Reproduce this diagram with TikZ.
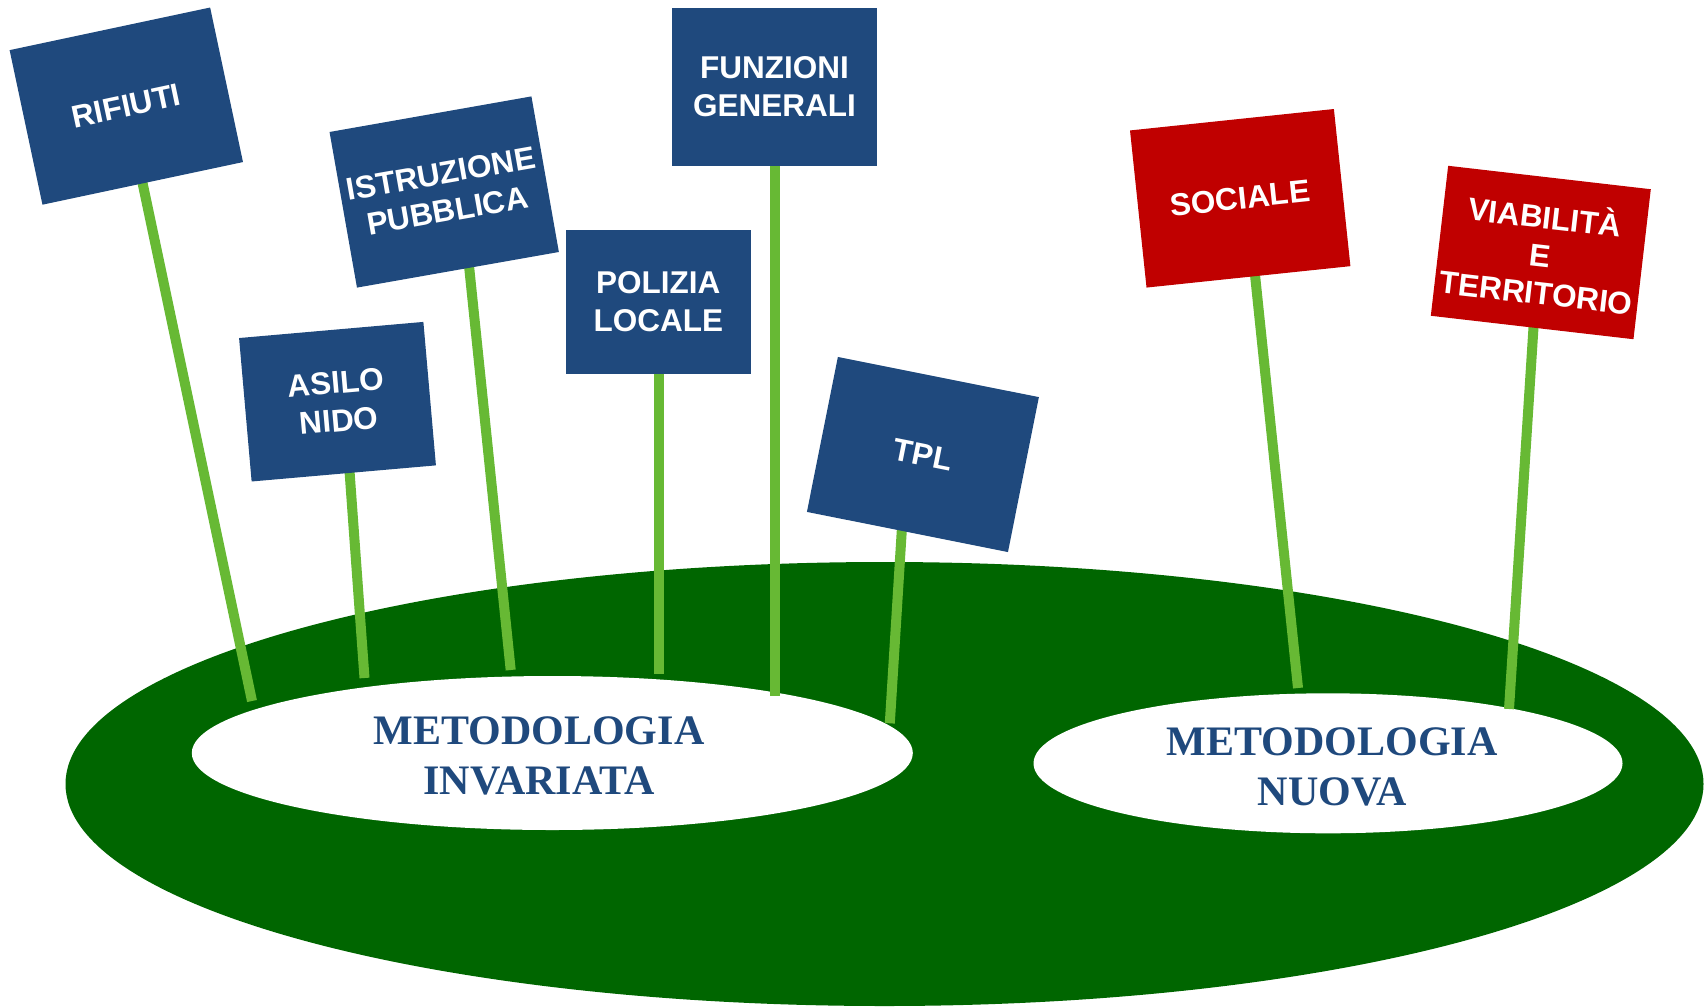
\documentclass[tikz,border=0pt]{standalone}
\usepackage{fontspec}
\setmainfont{Liberation Sans}
\newfontfamily\serifbold{Liberation Serif}
\usetikzlibrary{shapes.geometric}
\definecolor{signblue}{RGB}{31,73,125}
\definecolor{signred}{RGB}{192,0,0}
\definecolor{grass}{RGB}{0,102,0}
\definecolor{stick}{RGB}{103,185,52}
\pgfdeclarelayer{ground}
\pgfdeclarelayer{poles}
\pgfsetlayers{ground,poles,main}
\begin{document}
\begin{tikzpicture}[x=1pt,y=-1pt,
  sign/.style={rectangle, fill=signblue, text=white, inner sep=0pt, outer sep=0pt, align=center,
    font=\fontsize{31.5}{38}\selectfont\bfseries},
  bigsign/.style={sign, minimum width=205pt, minimum height=158pt},
  smallsign/.style={sign, minimum width=185pt, minimum height=144pt},
  pole/.style={draw=stick, line width=10pt},
  plate/.style={ellipse, fill=white, inner sep=0pt, outer sep=0pt},
  methtext/.style={text=signblue, align=center, inner sep=0pt,
    font=\serifbold\fontsize{42}{50}\selectfont\bfseries}]
\useasboundingbox (0,0) rectangle (1707,1007);

\begin{pgfonlayer}{ground}
\node[ellipse, fill=grass, inner sep=0pt, outer sep=0pt, minimum width=1638pt, minimum height=444pt] (field) at (884.5,784) {};
\node[plate, minimum width=721pt, minimum height=154pt] (left) at (552.3,753) {};
\node[plate, minimum width=589pt, minimum height=140pt] (right) at (1328,763.3) {};
\node[methtext] (lefttxt) at (539,756) {METODOLOGIA\\INVARIATA};
\node[methtext] (righttxt) at (1332,766.6) {METODOLOGIA\\NUOVA};
\end{pgfonlayer}

\node[bigsign, rotate=12] (rif) at (126.3,106.1) {RIFIUTI};
\node[bigsign, rotate=10] (istr) at (444.2,192) {ISTRUZIONE\\PUBBLICA};
\node[smallsign, rotate=5] (asilo) at (337.5,401.7) {ASILO\\NIDO};
\node[smallsign] (pol) at (658.3,302) {POLIZIA\\LOCALE};
\node[bigsign] (fun) at (774.5,87) {FUNZIONI\\GENERALI};
\node[bigsign, rotate=-11.3] (tpl) at (922.9,454.5) {TPL};
\node[bigsign, fill=signred, rotate=6] (soc) at (1240.2,198.3) {SOCIALE};
\node[sign, fill=signred, minimum width=204pt, minimum height=151pt, rotate=-6.6] (via) at (1540.8,252.5) {VIABILITÀ\\E\\TERRITORIO};

\begin{pgfonlayer}{poles}
\coordinate (rif-foot) at (252,701);
\coordinate (asilo-top) at (344.5,402);
\coordinate (asilo-foot) at (364.5,678);
\coordinate (istr-top) at (461.4,192);
\coordinate (istr-foot) at (510.7,670);
\coordinate (pol-top) at (659,302);
\coordinate (pol-foot) at (659,674);
\coordinate (fun-top) at (775,87);
\coordinate (fun-foot) at (775,696);
\coordinate (tpl-top) at (906.5,454.5);
\coordinate (tpl-foot) at (889.8,723.3);
\coordinate (soc-top) at (1247,198);
\coordinate (soc-foot) at (1298,688);
\coordinate (via-top) at (1538.3,252.5);
\coordinate (via-foot) at (1509,709);
\draw[pole] (rif.center) -- (rif-foot);
\draw[pole] (asilo-top) -- (asilo-foot);
\draw[pole] (istr-top) -- (istr-foot);
\draw[pole] (pol-top) -- (pol-foot);
\draw[pole] (fun-top) -- (fun-foot);
\draw[pole] (tpl-top) -- (tpl-foot);
\draw[pole] (soc-top) -- (soc-foot);
\draw[pole] (via-top) -- (via-foot);
\end{pgfonlayer}
\end{tikzpicture}
\end{document}
